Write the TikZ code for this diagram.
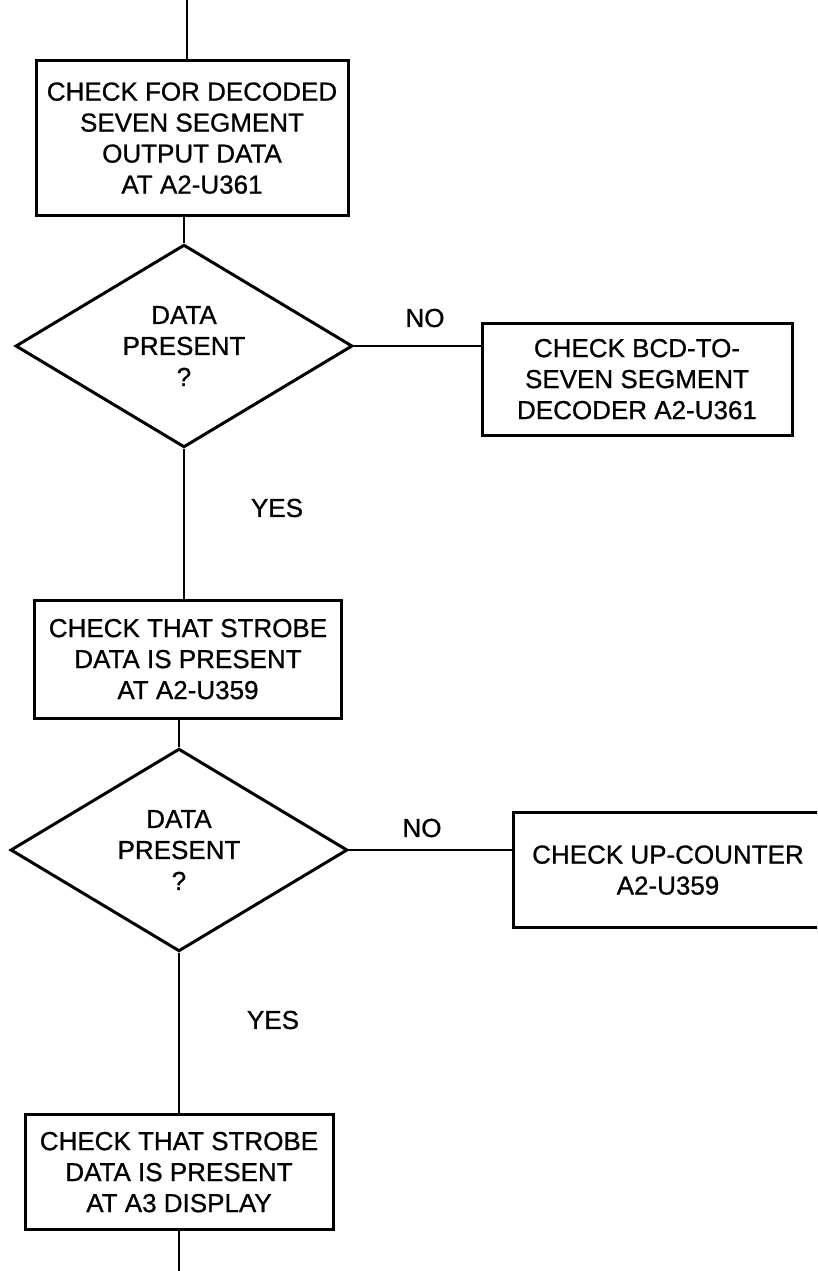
\documentclass[tikz,border=0pt]{standalone}
\usepackage{fontspec}
\setmainfont{Liberation Sans}
\newfontfamily\lettering{Liberation Sans}[FakeBold=0.8]
\usetikzlibrary{shapes.geometric}
\tikzset{
  every node/.style={font=\lettering\fontsize{26}{31}\selectfont, inner sep=0pt},
  stepbox/.style={draw, line width=3pt, rectangle, align=center, text depth=0pt},
  decision/.style={draw, line width=3pt, diamond, align=center, inner sep=0pt},
  link/.style={line width=2.4pt},
  lbl/.style={}
}
\begin{document}
\begin{tikzpicture}[x=1pt,y=-1pt]
\useasboundingbox (0,0) rectangle (817,1271);
\clip (0,0) rectangle (817,1271);

\coordinate (top) at (187,0);
\coordinate (bottom) at (179,1274);

\node[stepbox, minimum width=312pt, minimum height=155pt] (box1) at (192,138)
  {CHECK FOR DECODED\\SEVEN SEGMENT\\OUTPUT DATA\\AT A2-U361};

\node[decision, minimum width=337pt, minimum height=195pt] (d1) at (184,346)
  {DATA\\PRESENT\\?};

\node[stepbox, minimum width=310pt, minimum height=112pt] (box2) at (637,379)
  {CHECK BCD-TO-\\SEVEN SEGMENT\\DECODER A2-U361};

\node[stepbox, minimum width=307pt, minimum height=118pt] (box3) at (188,659)
  {CHECK THAT STROBE\\DATA IS PRESENT\\AT A2-U359};

\node[decision, minimum width=337pt, minimum height=200pt] (d2) at (179,850)
  {DATA\\PRESENT\\?};

\node[stepbox, minimum width=310pt, minimum height=115pt] (box4) at (668,870)
  {CHECK UP-COUNTER\\A2-U359};

\node[stepbox, minimum width=308pt, minimum height=115pt] (box5) at (179,1172)
  {CHECK THAT STROBE\\DATA IS PRESENT\\AT A3 DISPLAY};

\draw[link] (top) -- (top |- box1.north);
\draw[link] (box1.south -| d1.north) -- (d1.north);
\draw[link] (d1.south) -- (d1.south |- box3.north);
\draw[link] (box3.south -| d2.north) -- (d2.north);
\draw[link] (d2.south) -- (d2.south |- box5.north);
\draw[link] (box5.south) -- (bottom);
\draw[link] (d1.east) -- (d1.east -| box2.west);
\draw[link] (d2.east) -- (d2.east -| box4.west);

\node[lbl] (no1) at (425,318) {NO};
\node[lbl] (no2) at (422,828) {NO};
\node[lbl] (yes1) at (277,508) {YES};
\node[lbl] (yes2) at (273,1020) {YES};
\end{tikzpicture}
\end{document}
